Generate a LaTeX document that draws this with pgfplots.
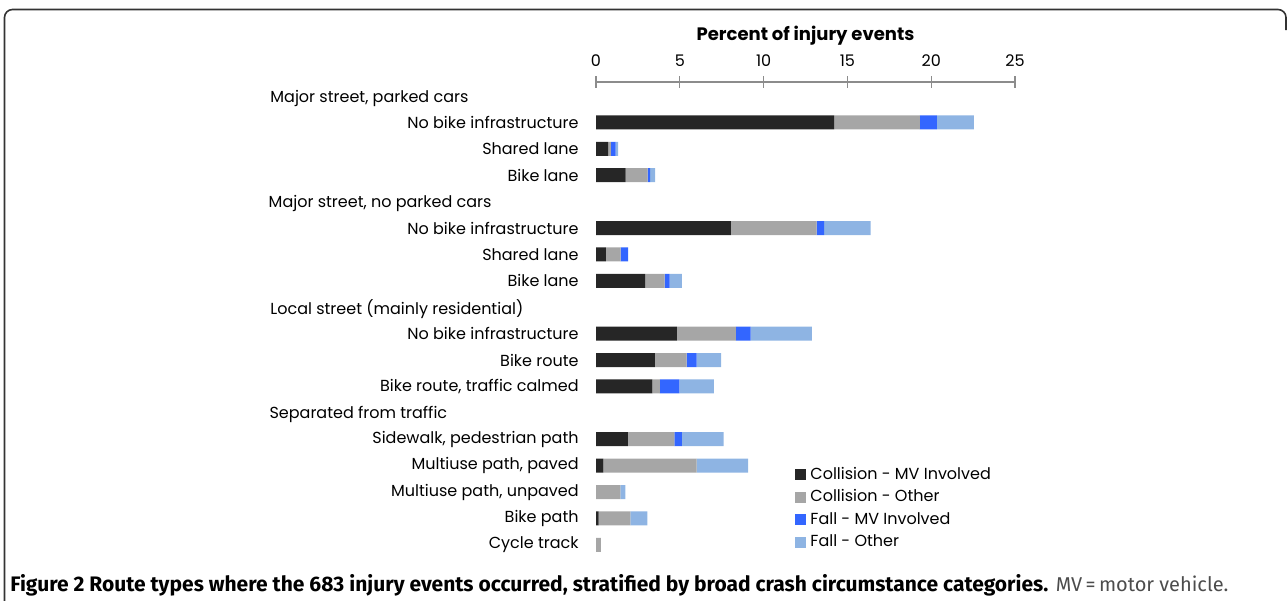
\documentclass[border=0pt]{standalone}
\usepackage{fontspec}
\setmainfont{Poppins}
\newfontfamily\capfont{Fira Sans}
\usepackage{pgfplots}
\usepackage{pgfplotstable}
\pgfplotsset{compat=1.18}
\definecolor{cmv}{HTML}{262626}
\definecolor{cot}{HTML}{A6A6A6}
\definecolor{fmv}{HTML}{3366FF}
\definecolor{fot}{HTML}{8EB4E3}
\definecolor{axgray}{HTML}{8C8C8C}
\pgfplotstableread{
y cmv co fmv fo
-1 14.20 5.12 1.02 2.20
-2 0.73 0.15 0.29 0.15
-3 1.76 1.32 0.15 0.29
-5 8.05 5.12 0.44 2.78
-6 0.59 0.88 0.44 0
-7 2.93 1.17 0.29 0.73
-9 4.83 3.51 0.88 3.66
-10 3.51 1.90 0.59 1.46
-11 3.37 0.44 1.17 2.05
-13 1.90 2.78 0.44 2.49
-14 0.44 5.56 0 3.07
-15 0 1.46 0 0.29
-16 0.15 1.90 0 1.02
-17 0 0.29 0 0
}\data
\begin{document}
\begin{tikzpicture}
\useasboundingbox (0,0) rectangle (644pt,-300pt);
\draw[line width=0.8pt, color=black!80, rounded corners=4pt] (2.25pt,-305pt) -- (2.25pt,-4.75pt) -- (643pt,-4.75pt) -- (643pt,-15pt);
\begin{axis}[
  at={(298pt,-41pt)}, anchor=north west,
  scale only axis, width=209.5pt, height=238pt,
  xmin=0, xmax=25, ymin=-17.5, ymax=0.53,
  xbar stacked, bar width=7pt,
  axis x line*=top, axis y line*=left,
  x axis line style={-, axgray, line width=0.6pt},
  y axis line style={draw=none},
  xtick={0,5,10,15,20,25},
  tick align=center, major tick length=6pt,
  x tick style={axgray, line width=0.6pt},
  xticklabel style={font=\fontsize{8}{9}\selectfont, yshift=1pt},
  /pgf/number format/assume math mode=true,
  ytick={-1,-2,-3,-5,-6,-7,-9,-10,-11,-13,-14,-15,-16,-17},
  yticklabels={{No bike infrastructure\ },{Shared lane},{Bike lane},{No bike infrastructure\ },{Shared lane},{Bike lane},{No bike infrastructure\ },{Bike route},{Bike route, traffic calmed},{Sidewalk, pedestrian path},{Multiuse path, paved},{Multiuse path, unpaved},{Bike path},{Cycle track}},
  y tick style={draw=none},
  yticklabel style={font=\fontsize{8}{9}\selectfont, anchor=east, inner sep=0pt, xshift=-5.5pt},
  title={\bfseries Percent of injury events},
  title style={font=\fontsize{9}{10}\selectfont, at={(0.5,1)}, anchor=south, yshift=9pt},
  clip=false,
  legend style={at={(0.475,0.2)}, anchor=north west, draw=none, fill=none, font=\fontsize{8}{9}\selectfont, row sep=-0.3pt, inner sep=0pt},
  legend cell align=left,
  legend image code/.code={\fill[#1] (0pt,-2.75pt) rectangle (5.5pt,2.75pt);},
]
\addplot[fill=cmv, draw=none] table[x=cmv, y=y] {\data};
\addplot[fill=cot, draw=none] table[x=co, y=y] {\data};
\addplot[fill=fmv, draw=none] table[x=fmv, y=y] {\data};
\addplot[fill=fot, draw=none] table[x=fo, y=y] {\data};
\legend{Collision - MV Involved, Collision - Other, Fall - MV Involved, Fall - Other}
\node[anchor=west, inner sep=0pt, yshift=-1pt, font=\fontsize{8}{9}\selectfont] at (axis cs:-19.45,0) {Major street, parked cars};
\node[anchor=west, inner sep=0pt, yshift=-1pt, font=\fontsize{8}{9}\selectfont] at (axis cs:-19.55,-4) {Major street, no parked cars};
\node[anchor=west, inner sep=0pt, yshift=-1pt, font=\fontsize{8}{9}\selectfont] at (axis cs:-19.45,-8) {Local street (mainly residential)};
\node[anchor=west, inner sep=0pt, yshift=-1pt, font=\fontsize{8}{9}\selectfont] at (axis cs:-19.5,-12) {Separated from traffic};
\end{axis}
\node[anchor=base west, inner sep=0pt, font=\capfont\fontsize{10.5}{12}\selectfont] at (5pt,-295.5pt) {\textbf{Figure 2 Route types where the 683 injury events occurred, stratified by broad crash circumstance categories.} {\fontsize{10}{12}\selectfont\textcolor{black!70}{MV\,=\,motor vehicle.}}};
\end{tikzpicture}
\end{document}
